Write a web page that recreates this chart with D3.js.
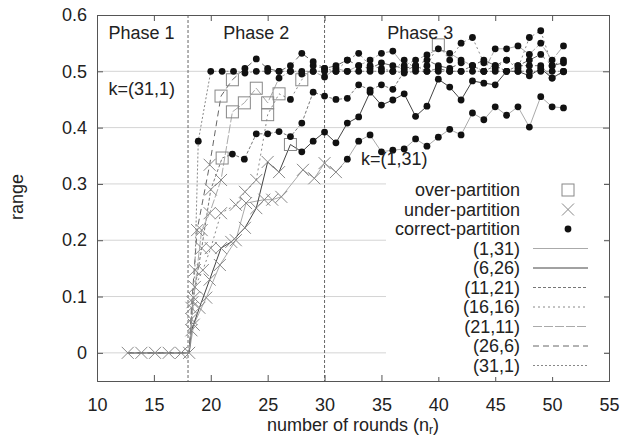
<!DOCTYPE html>
<html><head><meta charset="utf-8">
<script src="https://cdn.jsdelivr.net/npm/d3@7"></script>
<style>body{margin:0;background:#fff}svg{display:block;font-family:"Liberation Sans",Arial,sans-serif}</style>
</head><body><svg id="c" width="631" height="440"></svg>
<script>
const xTicks=[10,15,20,25,30,35,40,45,50,55];
const yTicks=[0,0.1,0.2,0.3,0.4,0.5,0.6];
const phaseBounds=[18,30];
const phaseLabels=["Phase 1","Phase 2","Phase 3"];
const kLabels=["k=(31,1)","k=(1,31)"];
const markerNames=["over-partition","under-partition","correct-partition"];
const seriesNames=["(1,31)","(6,26)","(11,21)","(16,16)","(21,11)","(26,6)","(31,1)"];
// o = over-partition, u = under-partition, c = correct-partition
const phase1=[[12.7,0,"u"],[13.9,0,"u"],[15.1,0,"u"],[16.3,0,"u"],[17.4,0,"u"],[18.1,0,"u"]];
const s1_31=[[18.5,0.05,"u"],[19.6,0.098,"u"],[20.8,0.156,"u"],[22.2,0.2,"u"],[23.1,0.266,"u"],[24.7,0.272,"u"],[25.4,0.272,"u"],[26.2,0.277,"u"],[28.1,0.325,"u"],[29.1,0.31,"u"],[30.0,0.337,"u"],[31.0,0.321,"u"],[32,0.344,"c"],[33,0.376,"c"],[34,0.387,"c"],[35,0.357,"c"],[36,0.36,"c"],[37,0.362,"c"],[38,0.38,"c"],[39,0.367,"c"],[40,0.383,"c"],[41,0.397,"c"],[42,0.387,"c"],[43,0.426,"c"],[44,0.414,"c"],[45,0.437,"c"],[46,0.422,"c"],[47,0.437,"c"],[48,0.401,"c"],[49,0.455,"c"],[50,0.437,"c"],[51,0.435,"c"]];
const s6_26=[[18.3,0.04,"u"],[19.0,0.08,"u"],[19.9,0.13,"u"],[20.9,0.186,"u"],[21.8,0.197,"u"],[23.0,0.222,"u"],[24.0,0.257,"u"],[25.0,0.339,"u"],[26.0,0.321,"u"],[27,0.37,"o"],[28,0.357,"c"],[29,0.376,"c"],[30,0.392,"c"],[31,0.373,"c"],[32,0.408,"c"],[33,0.419,"c"],[34,0.463,"c"],[35,0.44,"c"],[36,0.449,"c"],[37,0.46,"c"],[38,0.42,"c"],[39,0.438,"c"],[40,0.486,"c"],[41,0.472,"c"],[42,0.449,"c"],[43,0.483,"c"],[44,0.479,"c"],[45,0.476,"c"],[46,0.5,"c"],[47,0.5,"c"],[48,0.492,"c"],[49,0.505,"c"],[50,0.488,"c"],[51,0.5,"c"]];
const s11_21=[[18.4,0.09,"u"],[19.2,0.186,"u"],[20.0,0.29,"u"],[21,0.346,"o"],[21.9,0.353,"c"],[22.95,0.344,"c"],[24,0.389,"c"],[25,0.389,"c"],[26,0.393,"c"],[27,0.384,"c"],[28,0.408,"c"],[29,0.463,"c"],[30,0.456,"c"],[31,0.45,"c"],[32,0.452,"c"],[33,0.476,"c"],[34,0.467,"c"],[35,0.476,"c"],[36,0.468,"c"],[37,0.5,"c"],[38,0.51,"c"],[39,0.5,"c"],[40,0.505,"c"],[41,0.5,"c"],[42,0.5,"c"],[43,0.51,"c"],[44,0.5,"c"],[45,0.51,"c"],[46,0.5,"c"],[47,0.51,"c"],[48,0.51,"c"],[49,0.51,"c"],[50,0.488,"c"],[51,0.499,"c"]];
const s16_16=[[18.6,0.117,"u"],[19.3,0.147,"u"],[20.0,0.186,"u"],[20.9,0.248,"u"],[22.2,0.263,"u"],[23.0,0.286,"u"],[24.0,0.307,"u"],[25,0.423,"o"],[26,0.46,"o"],[27,0.45,"c"],[28,0.485,"o"],[29,0.51,"c"],[30,0.505,"c"],[31,0.5,"c"],[32,0.52,"c"],[33,0.532,"c"],[34,0.51,"c"],[35,0.505,"c"],[36,0.5,"c"],[37,0.52,"c"],[38,0.505,"c"],[39,0.51,"c"],[40,0.547,"o"],[41,0.52,"c"],[42,0.55,"c"],[43,0.56,"c"],[44,0.515,"c"],[45,0.505,"c"],[46,0.52,"c"],[47,0.505,"c"],[48,0.56,"c"],[49,0.572,"c"],[50,0.51,"c"],[51,0.52,"c"]];
const s21_11=[[18.5,0.098,"u"],[19.2,0.218,"u"],[19.9,0.248,"u"],[20.9,0.307,"u"],[21.9,0.428,"o"],[22.95,0.444,"o"],[24,0.47,"o"],[25,0.444,"o"],[26,0.488,"c"],[27,0.5,"c"],[28,0.495,"c"],[29,0.5,"c"],[30,0.49,"c"],[31,0.505,"c"],[32,0.5,"c"],[33,0.51,"c"],[34,0.52,"c"],[35,0.532,"c"],[36,0.536,"c"],[37,0.51,"c"],[38,0.52,"c"],[39,0.529,"c"],[40,0.54,"c"],[41,0.532,"c"],[42,0.52,"c"],[43,0.51,"c"],[44,0.5,"c"],[45,0.54,"c"],[46,0.54,"c"],[47,0.545,"c"],[48,0.53,"c"],[49,0.55,"c"],[50,0.52,"c"],[51,0.545,"c"]];
const s26_6=[[18.3,0.08,"u"],[18.8,0.218,"u"],[19.9,0.334,"u"],[20.9,0.456,"o"],[21.9,0.485,"o"],[23,0.505,"c"],[24,0.522,"c"],[25,0.505,"c"],[26,0.5,"c"],[27,0.51,"c"],[28,0.532,"c"],[29,0.517,"c"],[30,0.505,"c"],[31,0.51,"c"],[32,0.52,"c"],[33,0.51,"c"],[34,0.505,"c"],[35,0.515,"c"],[36,0.51,"c"],[37,0.505,"c"],[38,0.51,"c"],[39,0.52,"c"],[40,0.51,"c"],[41,0.505,"c"],[42,0.515,"c"],[43,0.51,"c"],[44,0.52,"c"],[45,0.51,"c"],[46,0.52,"c"],[47,0.51,"c"],[48,0.52,"c"],[49,0.53,"c"],[50,0.51,"c"],[51,0.515,"c"]];
const s31_1=[[18.3,0.06,"u"],[18.6,0.147,"u"],[18.9,0.376,"c"],[20,0.5,"c"],[21,0.5,"c"],[22,0.5,"c"],[23,0.497,"c"],[24,0.5,"c"],[25,0.5,"c"],[26,0.5,"c"],[27,0.5,"c"],[28,0.5,"c"],[29,0.5,"c"],[30,0.5,"c"],[31,0.5,"c"],[32,0.5,"c"],[33,0.5,"c"],[34,0.5,"c"],[35,0.5,"c"],[36,0.5,"c"],[37,0.497,"c"],[38,0.5,"c"],[39,0.5,"c"],[40,0.5,"c"],[41,0.5,"c"],[42,0.5,"c"],[43,0.5,"c"],[44,0.5,"c"],[45,0.5,"c"],[46,0.5,"c"],[47,0.5,"c"],[48,0.5,"c"],[49,0.5,"c"],[50,0.5,"c"],[51,0.5,"c"]];

const seriesData=[s1_31,s6_26,s11_21,s16_16,s21_11,s26_6,s31_1];
const lineStyles=[
  {c:"#aaa",d:null,w:1},
  {c:"#444",d:null,w:1},
  {c:"#777",d:"3,2",w:1},
  {c:"#888",d:"2,3",w:1},
  {c:"#aaa",d:"9,2",w:1},
  {c:"#666",d:"6,4",w:1},
  {c:"#888",d:"2,2",w:1}];

const svg=d3.select("#c");
const x=d3.scaleLinear().domain([10,55]).range([97,609]);
const y=d3.scaleLinear().domain([-0.05,0.6]).range([381,15]);
const FS=18;

// grid
svg.append("g").selectAll("line").data(yTicks.filter(v=>v<0.6)).join("line")
  .attr("x1",x(10)).attr("x2",x(55)).attr("y1",d=>y(d)).attr("y2",d=>y(d))
  .attr("stroke","#d4d4d4").attr("stroke-width",1);

// phase separators
svg.append("g").selectAll("line").data(phaseBounds).join("line")
  .attr("x1",d=>x(d)).attr("x2",d=>x(d)).attr("y1",y(0.6)).attr("y2",y(-0.05))
  .attr("stroke","#666").attr("stroke-width",1).attr("stroke-dasharray","3,2");

// axes (inward ticks, mirrored)
const axB=svg.append("g").attr("transform",`translate(0,${y(-0.05)})`)
  .call(d3.axisBottom(x).tickValues(xTicks).tickSize(-6).tickPadding(17).tickFormat(d3.format("d")));
const axT=svg.append("g").attr("transform",`translate(0,${y(0.6)})`)
  .call(d3.axisTop(x).tickValues(xTicks).tickSize(-6).tickFormat(""));
const axL=svg.append("g").attr("transform",`translate(${x(10)},0)`)
  .call(d3.axisLeft(y).tickValues(yTicks).tickSize(-6).tickPadding(10).tickFormat(d=>d===0?"0":d3.format(".1f")(d)));
const axR=svg.append("g").attr("transform",`translate(${x(55)},0)`)
  .call(d3.axisRight(y).tickValues(yTicks).tickSize(-6).tickFormat(""));
[axB,axT,axL,axR].forEach(a=>{
  a.select(".domain").attr("stroke","#555");
  a.selectAll(".tick line").attr("stroke","#555");
  a.selectAll("text").attr("font-size",FS).attr("fill","#222").attr("font-family","Liberation Sans, Arial, sans-serif");
});
axB.selectAll(".tick text").attr("dy","0.71em");

// series lines
const line=d3.line().x(d=>x(d[0])).y(d=>y(d[1]));
seriesData.forEach((s,i)=>{
  const st=lineStyles[i];
  svg.append("path").datum(phase1.concat(s)).attr("d",line)
    .attr("fill","none").attr("stroke",st.c).attr("stroke-width",st.w)
    .attr("stroke-dasharray",st.d);
});

// markers
function drawMarker(g,type,cx,cy){
  if(type==="o"){
    g.append("rect").attr("x",cx-6).attr("y",cy-6).attr("width",12).attr("height",12)
      .attr("fill","none").attr("stroke","#888").attr("stroke-width",1);
  } else if(type==="u"){
    g.append("path").attr("d",`M${cx-6},${cy-6}L${cx+6},${cy+6}M${cx-6},${cy+6}L${cx+6},${cy-6}`)
      .attr("stroke","#888").attr("stroke-width",1).attr("fill","none");
  } else {
    g.append("circle").attr("cx",cx).attr("cy",cy).attr("r",3.4).attr("fill","#111");
  }
}
const mg=svg.append("g");
const allPts=phase1.concat(...seriesData);
["u","o","c"].forEach(t=>{
  allPts.filter(p=>p[2]===t).forEach(p=>drawMarker(mg,t,x(p[0]),y(p[1])));
});

// annotations
const ann=svg.append("g").attr("font-size",FS).attr("fill","#222");
const phaseX=[11,21.1,35.5];
phaseLabels.forEach((t,i)=>ann.append("text").attr("x",x(phaseX[i])).attr("y",y(0.558)).text(t));
ann.append("text").attr("x",x(11)).attr("y",y(0.458)).text(kLabels[0]);
ann.append("text").attr("x",x(33.2)).attr("y",y(0.333)).text(kLabels[1]);

// legend (opaque key)
const lg=svg.append("g");
lg.append("rect").attr("x",386).attr("y",180).attr("width",218).attr("height",197).attr("fill","#fff");
const rowY=i=>190+i*19.5;
const legendRows=markerNames.concat(seriesNames);
legendRows.forEach((t,i)=>{
  lg.append("text").attr("x",520).attr("y",rowY(i)).attr("dy","0.36em").attr("text-anchor","end")
    .attr("font-size",FS).attr("fill","#222").text(t);
});
["o","u","c"].forEach((t,i)=>drawMarker(lg,t,568,rowY(i)));
lineStyles.forEach((st,i)=>{
  lg.append("line").attr("x1",533).attr("x2",588).attr("y1",rowY(i+3)).attr("y2",rowY(i+3))
    .attr("stroke",st.c).attr("stroke-width",st.w).attr("stroke-dasharray",st.d);
});

// axis titles
svg.append("text").attr("transform","translate(23,197) rotate(-90)").attr("text-anchor","middle")
  .attr("font-size",FS).attr("fill","#222").text("range");
const xt=svg.append("text").attr("x",353).attr("y",431).attr("text-anchor","middle")
  .attr("font-size",FS).attr("fill","#222");
xt.append("tspan").text("number of rounds (n");
xt.append("tspan").attr("font-size",12).attr("dy",3).text("r");
xt.append("tspan").attr("dy",-3).text(")");
</script></body></html>
